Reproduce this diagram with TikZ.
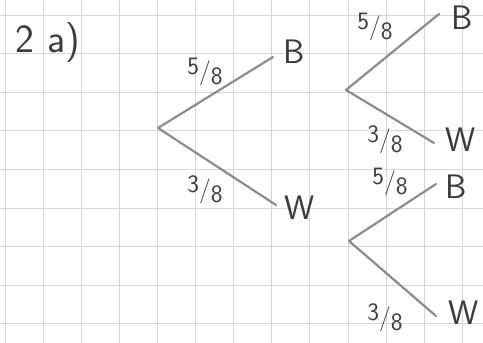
\documentclass[tikz,border=0pt]{standalone}
\usetikzlibrary{positioning}
\definecolor{pencil}{HTML}{8C8C8C}
\definecolor{ink}{HTML}{3C3C3C}
\definecolor{gridc}{HTML}{D6D6D6}
\newcommand{\slfrac}[2]{\raisebox{0.2em}{#1}/\raisebox{-0.2em}{#2}}

\begin{document}
\begin{tikzpicture}[x=1pt, y=-1pt,
    branch/.style={draw=pencil, line width=2.2pt, line cap=round},
    leaf/.style={font=\fontsize{34}{36}\selectfont\sffamily, text=ink, inner sep=0pt},
    prob/.style={font=\fontsize{25}{27}\selectfont\sffamily, text=ink, inner sep=0pt},
    gridline/.style={draw=gridc, line width=0.7pt},
  ]
    \useasboundingbox (0,0) rectangle (483,343);
    \fill[white] (0,0) rectangle (483,343);

    % squared paper
    \foreach \i in {0,...,12}
      \draw[gridline] ({5+38.1*\i},0) -- ({5+38.1*\i},343);
    \foreach \j in {0,...,8}
      \draw[gridline] (0,{15+38.6*\j}) -- (483,{15+38.6*\j});

    \node[font=\fontsize{40}{42}\selectfont\sffamily, text=ink, inner sep=0pt] (title) at (48,43) {2 a)};

    % first draw
    \coordinate (r0) at (158,128);
    \coordinate (t1) at (273,57);
    \coordinate (t2) at (276,205);
    \draw[branch] (r0) -- (t1);
    \draw[branch] (r0) -- (t2);
    \node[leaf, right=10pt of t1, yshift=5pt] (b1) {B};
    \node[leaf, right=8pt of t2, yshift=-3pt] (w1) {W};
    \node[prob] (p1) at (205,72) {\slfrac{5}{8}};
    \node[prob] (p2) at (205,190) {\slfrac{3}{8}};

    % second draw, after B
    \coordinate (r1) at (346,90);
    \coordinate (t3) at (439,14);
    \coordinate (t4) at (434,143);
    \draw[branch] (r1) -- (t3);
    \draw[branch] (r1) -- (t4);
    \node[leaf, right=12pt of t3, yshift=-4pt] (b2) {B};
    \node[leaf, right=11pt of t4, yshift=3pt] (w2) {W};
    \node[prob] (p3) at (375,27) {\slfrac{5}{8}};
    \node[prob] (p4) at (385,140) {\slfrac{3}{8}};

    % second draw, after W
    \coordinate (r2) at (349,241);
    \coordinate (t5) at (436,184);
    \coordinate (t6) at (436,316);
    \draw[branch] (r2) -- (t5);
    \draw[branch] (r2) -- (t6);
    \node[leaf, right=9pt of t5, yshift=-3pt] (b3) {B};
    \node[leaf, right=12pt of t6, yshift=3pt] (w3) {W};
    \node[prob] (p5) at (390,182) {\slfrac{5}{8}};
    \node[prob] (p6) at (385,318) {\slfrac{3}{8}};
  \end{tikzpicture}
\end{document}
